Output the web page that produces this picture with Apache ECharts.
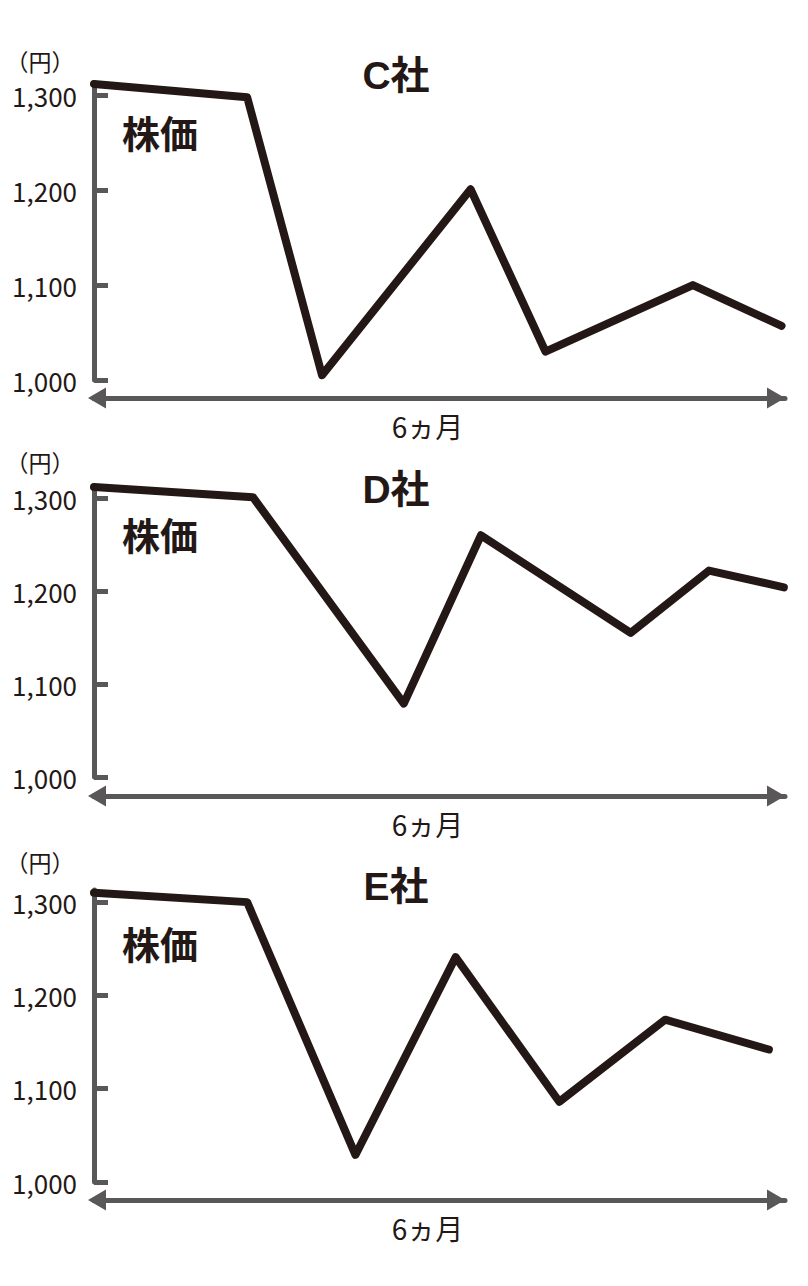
<!DOCTYPE html>
<html>
<head>
<meta charset="utf-8">
<script src="https://cdn.jsdelivr.net/npm/echarts@6/dist/echarts.min.js"></script>
<style>
  html, body { margin: 0; padding: 0; background: #fff; }
  #chart { width: 808px; height: 1286px; }
</style>
</head>
<body>
<div id="chart"></div>
<script>
// company names and the x position of each point, in months from the start
const companies = ['C社', 'D社', 'E社'];
const monthsC = [0, 1.33, 1.98, 3.27, 3.92, 5.2, 5.97];
const monthsD = [0, 1.38, 2.69, 3.36, 4.66, 5.34, 5.99];
const monthsE = [0, 1.33, 2.27, 3.14, 4.04, 4.96, 5.86];

// share price (yen)
const priceC = [1312, 1298, 1005, 1201, 1030, 1100, 1057];
const priceD = [1312, 1301, 1079, 1260, 1155, 1222, 1204];
const priceE = [1310, 1300, 1029, 1241, 1086, 1174, 1142];

const yTickValues = [1000, 1100, 1200, 1300];
const yTickLabels = ['1,000', '1,100', '1,200', '1,300'];
const xAxisLabel = '6ヵ月';
const unitLabel = '（円）';
const seriesLabel = '株価';

const INK = '#231815';
const AXIS = '#595757';
const CJK = '"Noto Sans CJK JP", sans-serif';
const TITLE = '"Liberation Sans", "Noto Sans CJK JP", sans-serif';

// layout of each panel: grid top/height, gap to the arrow, text centers
const panels = [
  { top: 83, height: 297, offset: 18, unitY: 61, titleY: 75, labelY: 131, nameGap: 14 },
  { top: 486, height: 291, offset: 19, unitY: 462, titleY: 489, labelY: 533, nameGap: 14 },
  { top: 890, height: 292, offset: 18, unitY: 862, titleY: 886, labelY: 942, nameGap: 14 },
];

function pairs(xs, ys) {
  return xs.map((x, i) => [x, ys[i]]);
}

const seriesData = [pairs(monthsC, priceC), pairs(monthsD, priceD), pairs(monthsE, priceE)];

const grids = [];
const xAxes = [];
const yAxes = [];
const series = [];
const graphics = [];

panels.forEach((p, i) => {
  grids.push({ left: 94, right: 23, top: p.top, height: p.height });

  xAxes.push({
    gridIndex: i,
    type: 'value',
    min: 0,
    max: 6,
    offset: p.offset,
    splitLine: { show: false },
    axisTick: { show: false },
    axisLabel: { show: false },
    axisLine: {
      show: true,
      symbol: ['triangle', 'triangle'],
      symbolSize: [21, 18],
      symbolOffset: [3, -9],
      lineStyle: { color: AXIS, width: 5 },
    },
    name: xAxisLabel,
    nameLocation: 'middle',
    nameGap: p.nameGap,
    nameTextStyle: {
      color: INK, fontSize: 28, fontFamily: CJK, verticalAlign: 'top',
      padding: [0, 24, 0, 0],
    },
  });

  yAxes.push({
    gridIndex: i,
    type: 'value',
    min: 1000,
    max: 1313,
    interval: 100,
    splitLine: { show: false },
    axisLine: { show: true, lineStyle: { color: AXIS, width: 5 } },
    axisTick: {
      show: true,
      inside: true,
      length: 14,
      customValues: yTickValues,
      lineStyle: { color: AXIS, width: 5 },
    },
    axisLabel: {
      customValues: yTickValues,
      margin: 17,
      color: INK,
      fontSize: 26,
      fontFamily: CJK,
      formatter: v => yTickLabels[yTickValues.indexOf(v)],
    },
  });

  series.push({
    name: companies[i],
    type: 'line',
    xAxisIndex: i,
    yAxisIndex: i,
    data: seriesData[i],
    symbol: 'none',
    silent: true,
    lineStyle: { color: INK, width: 8, cap: 'round', join: 'round' },
  });

  graphics.push(
    {
      type: 'text', x: 40, y: p.unitY,
      style: { text: unitLabel, fill: INK, font: '23px ' + CJK, align: 'center', verticalAlign: 'middle' },
    },
    {
      type: 'text', x: 396, y: p.titleY,
      style: { text: companies[i], fill: INK, font: 'bold 39px ' + TITLE, align: 'center', verticalAlign: 'middle' },
    },
    {
      type: 'text', x: 160, y: p.labelY,
      style: { text: seriesLabel, fill: INK, font: 'bold 38px ' + CJK, align: 'center', verticalAlign: 'middle' },
    }
  );
});

const chart = echarts.init(document.getElementById('chart'), null, { renderer: 'svg' });
chart.setOption({
  animation: false,
  backgroundColor: '#fff',
  grid: grids,
  xAxis: xAxes,
  yAxis: yAxes,
  series: series,
  graphic: graphics,
});
</script>
</body>
</html>
